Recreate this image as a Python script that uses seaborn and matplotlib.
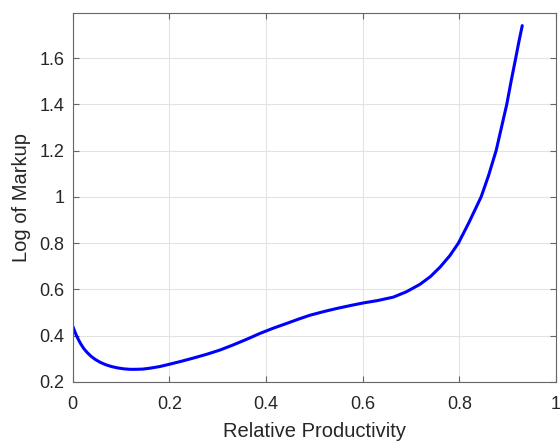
import numpy as np
import pandas as pd
import matplotlib
matplotlib.use("Agg")
import matplotlib.pyplot as plt
import seaborn as sns

# values
productivity = [0.0, 0.004, 0.008, 0.012, 0.017, 0.023, 0.03, 0.038, 0.047, 0.057,
                0.068, 0.08, 0.093, 0.106, 0.118, 0.13, 0.145, 0.16, 0.18, 0.20,
                0.225, 0.25, 0.277, 0.304, 0.33, 0.36, 0.387, 0.415, 0.442, 0.467,
                0.491, 0.52, 0.546, 0.575, 0.601, 0.63, 0.663, 0.69, 0.718, 0.74,
                0.76, 0.78, 0.798, 0.82, 0.845, 0.86, 0.876, 0.887, 0.898, 0.907,
                0.9165, 0.923, 0.930]
log_markup = [0.44, 0.418, 0.398, 0.381, 0.362, 0.343, 0.326, 0.31, 0.296, 0.284,
              0.274, 0.266, 0.26, 0.256, 0.254, 0.254, 0.255, 0.259, 0.266, 0.276,
              0.289, 0.303, 0.319, 0.337, 0.358, 0.384, 0.409, 0.432, 0.452, 0.471,
              0.488, 0.504, 0.517, 0.53, 0.541, 0.551, 0.566, 0.589, 0.621, 0.655,
              0.696, 0.745, 0.80, 0.89, 1.0, 1.09, 1.2, 1.3, 1.4, 1.5,
              1.6, 1.67, 1.74]

df = pd.DataFrame({"x": productivity, "y": log_markup})

sns.set_style("white")
plt.rcParams["font.family"] = ["Liberation Sans", "DejaVu Sans"]

fig = plt.figure(figsize=(5.6, 4.45), dpi=100)
ax = fig.add_axes([0.130, 0.142, 0.863, 0.829])

sns.lineplot(data=df, x="x", y="y", sort=False, estimator=None,
             color="#0000ff", linewidth=2.2, ax=ax)

ax.set_xlim(0, 1)
ax.set_ylim(0.2, 1.795)
ax.set_xticks([0, 0.2, 0.4, 0.6, 0.8, 1])
ax.set_xticklabels(["0", "0.2", "0.4", "0.6", "0.8", "1"])
ax.set_yticks([0.2, 0.4, 0.6, 0.8, 1.0, 1.2, 1.4, 1.6])
ax.set_yticklabels(["0.2", "0.4", "0.6", "0.8", "1", "1.2", "1.4", "1.6"])
ax.grid(True, color="#e3e3e3", linewidth=0.8)
ax.set_axisbelow(True)
ax.tick_params(direction="in", length=4, width=0.8, color="#666666",
               labelsize=13, labelcolor="#262626", top=True, right=True,
               bottom=True, left=True)
ax.tick_params(axis="x", pad=10)
ax.tick_params(axis="y", pad=6)
for s in ax.spines.values():
    s.set_color("#666666")
    s.set_linewidth(0.8)
ax.set_xlabel("Relative Productivity", fontsize=14.5, color="#262626", labelpad=7)
ax.set_ylabel("Log of Markup", fontsize=14.5, color="#262626", labelpad=6)

fig.savefig("out.png", dpi=100)
